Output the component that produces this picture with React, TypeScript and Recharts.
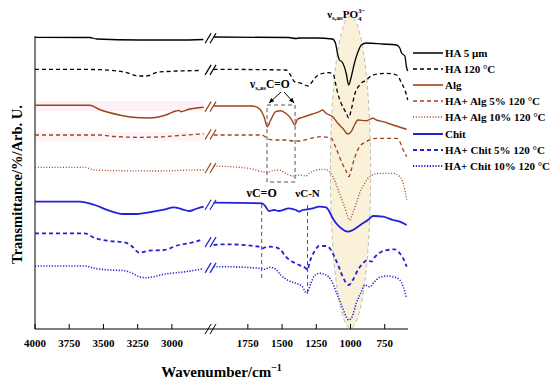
import React from 'react';
import { LineChart, Line, XAxis, YAxis, ReferenceArea, ReferenceLine, ReferenceDot, Legend } from 'recharts';

// ---------- axis break geometry (wavenumber, cm-1) ----------
const LEFT_MAX = 4000;
const LEFT_MIN = 2750;
const RIGHT_MAX = 2000;
const RIGHT_MIN = 580;
const GAP = 55;
const toC = (wn: number) => (wn >= LEFT_MIN ? LEFT_MAX - wn : LEFT_MAX - LEFT_MIN + GAP + (RIGHT_MAX - wn));
const fromC = (c: number) => Math.round(c <= LEFT_MAX - LEFT_MIN ? LEFT_MAX - c : RIGHT_MAX - (c - (LEFT_MAX - LEFT_MIN + GAP)));
const C_MAX = toC(RIGHT_MIN);
const BREAK_C = (LEFT_MAX - LEFT_MIN) + GAP / 2;

// ---------- tick labels ----------
const MAJOR_TICKS = [4000, 3750, 3500, 3250, 3000, 1750, 1500, 1250, 1000, 750];
const MINOR_TICKS = [3875, 3625, 3375, 3125, 2875, 1875, 1625, 1375, 1125, 875, 625];

// ---------- spectra: [wavenumber, transmittance (arb. u., stacked)] ----------
const HA_5UM: [number, number][] = [
  [4000, 291.7], [3600, 291.5], [3550, 290], [3240, 289], [2950, 289], [2770, 289.5],
  [2000, 292], [1450, 291.5], [1400, 290.5], [1375, 291], [1250, 291], [1132, 290], [1110, 286], [1096, 276],
  [1081, 269], [1061, 267], [1032, 256], [1013, 244], [995, 252], [971, 266], [946, 277], [921, 284], [885, 286],
  [765, 285], [664, 284], [640, 281], [627, 276], [603, 273], [591, 262], [582, 258],
];
const HA_120C: [number, number][] = [
  [4000, 259.7], [3565, 259.5], [3348, 257], [3239, 253], [3188, 253], [3094, 257], [2804, 258.5],
  [2000, 259.7], [1470, 259], [1446, 255.7], [1409, 247.3], [1360, 245.7], [1310, 243], [1287, 246], [1262, 250.7],
  [1237, 254], [1188, 256], [1154, 256.3], [1125, 254.5], [1110, 246], [1094, 236], [1069, 226], [1032, 216],
  [1013, 211], [995, 219], [971, 234], [934, 244], [885, 249], [838, 254], [738, 255.7], [664, 254], [627, 246],
  [603, 239], [591, 234], [582, 229],
];
const ALG: [number, number][] = [
  [4000, 223.7], [3601, 223.7], [3529, 219.5], [3384, 214], [3290, 211.7], [3167, 211], [3043, 214], [2971, 218],
  [2949, 218.5], [2935, 217.3], [2877, 219.7], [2768, 221.7],
  [2000, 223], [1718, 223], [1669, 220.7], [1632, 212.3], [1608, 202.3], [1583, 209], [1546, 217.3], [1510, 218.3],
  [1473, 215.7], [1436, 210.7], [1407, 204], [1387, 209.7], [1351, 211.7], [1277, 215], [1228, 217.3], [1204, 219],
  [1179, 215.7], [1130, 212.3], [1093, 205.7], [1057, 200.7], [1020, 195], [995, 197.3], [971, 204], [946, 209],
  [885, 208.3], [836, 210.7], [811, 209], [762, 207.3], [689, 204], [590, 199.7],
];
const ALG_5: [number, number][] = [
  [4000, 194], [3529, 194], [3420, 192.5], [3239, 191.7], [3100, 192], [2950, 193.5], [2768, 195],
  [2000, 194], [1650, 194], [1600, 190], [1550, 189], [1470, 189], [1420, 188], [1375, 188], [1290, 190.7],
  [1215, 192.3], [1140, 190.7], [1115, 184], [1091, 175.7], [1066, 167.3], [1030, 157.3], [1012, 152.3], [995, 159],
  [971, 170.7], [934, 182.3], [885, 187.3], [811, 190.7], [664, 190.7], [640, 187.3], [615, 179], [590, 172.3],
];
const ALG_10: [number, number][] = [
  [4000, 161.7], [3638, 161.7], [3565, 159], [3384, 158.3], [3094, 158], [2804, 159], [2768, 159],
  [2000, 163], [1743, 160.7], [1645, 157.3], [1608, 156.7], [1571, 158.3], [1522, 159], [1473, 155.7], [1424, 153],
  [1375, 154], [1326, 153], [1301, 155.7], [1265, 158.3], [1204, 159.7], [1167, 159], [1142, 155.7], [1118, 149],
  [1081, 135.7], [1044, 122.3], [1020, 112.3], [1007, 109], [983, 116], [958, 125.7], [934, 135.7], [897, 145.7],
  [860, 152.3], [787, 155.7], [689, 155.7], [640, 152.3], [603, 139], [590, 129],
];
const CHIT: [number, number][] = [
  [4000, 127.3], [3674, 127.3], [3565, 124], [3457, 118.3], [3360, 115], [3275, 115], [3167, 116.7], [3058, 119.3],
  [2986, 121.7], [2925, 119.7], [2872, 118], [2826, 120], [2768, 122.3],
  [2000, 126.3], [1645, 125.7], [1620, 122.3], [1596, 118], [1559, 119], [1522, 118], [1449, 120.7], [1399, 119],
  [1375, 117.3], [1350, 119], [1314, 119.7], [1277, 120.7], [1228, 122.3], [1179, 121.7], [1154, 117.3],
  [1130, 110.7], [1105, 105.7], [1068, 100.7], [1020, 97.3], [983, 99], [946, 102.3], [910, 105.7], [873, 109],
  [836, 113], [762, 112.3], [689, 109], [640, 107.3], [590, 104],
];
const CHIT_5: [number, number][] = [
  [4000, 95.7], [3638, 95.7], [3565, 91], [3457, 88], [3348, 86.7], [3288, 82.3], [3239, 76.3], [3167, 78.3],
  [3058, 79], [2949, 84], [2855, 86.3], [2775, 89.7],
  [2000, 84], [1914, 84.7], [1669, 82.3], [1645, 80.7], [1608, 82.3], [1546, 81.7], [1510, 79], [1473, 72.3],
  [1424, 67.3], [1375, 64], [1326, 60.7], [1314, 59], [1301, 65.7], [1265, 77.3], [1228, 83], [1179, 83],
  [1142, 79], [1118, 72.3], [1086, 62.3], [1057, 52.3], [1013, 44], [983, 49], [946, 59], [910, 65.7], [873, 69],
  [848, 67.3], [824, 71.7], [774, 77.3], [726, 79], [676, 79.7], [640, 75.7], [615, 70.7], [590, 62.3],
];
const CHIT_10: [number, number][] = [
  [4000, 63], [3638, 63], [3565, 60.7], [3457, 59], [3348, 58.3], [3288, 55.7], [3239, 52.3], [3191, 51.3],
  [3046, 55], [2901, 57.3], [2780, 60],
  [2000, 62.3], [1914, 62.3], [1669, 60.7], [1632, 59.7], [1583, 61.7], [1546, 59.7], [1510, 54], [1461, 49],
  [1399, 45.7], [1351, 42.3], [1321, 35.7], [1289, 45.7], [1265, 53], [1228, 55.7], [1179, 54], [1142, 49],
  [1105, 37.3], [1081, 29], [1057, 20.7], [1032, 12.3], [1013, 9], [988, 12.3], [958, 25.7], [921, 37.3],
  [897, 44], [860, 42.3], [824, 47.3], [787, 51.7], [738, 53], [689, 52.3], [640, 49], [615, 42.3], [590, 30.7],
];

// ---------- annotation positions (wavenumber / arb. units) ----------
const PO4_BAND = { wnHigh: 1147, wnLow: 853, tLow: 1, tHigh: 313 };
const CO_BOX = { wnHigh: 1610, wnLow: 1405, tLow: 147, tHigh: 224 };
const NU_CO_WN = 1649;
const NU_CN_WN = 1314;

const BLACK = '#000000';
const BROWN = '#9e421c';
const BLUE = '#2222d4';
const FONT = '"Liberation Serif", "Times New Roman", serif';

type S = { name: string; data: [number, number][]; color: string; dash?: string; width: number };
const SERIES: S[] = [
  { name: 'HA 5 μm', data: HA_5UM, color: BLACK, width: 1.3 },
  { name: 'HA 120 °C', data: HA_120C, color: BLACK, dash: '4 3', width: 1.3 },
  { name: 'Alg', data: ALG, color: BROWN, width: 1.4 },
  { name: 'HA+ Alg 5% 120 °C', data: ALG_5, color: BROWN, dash: '4 3', width: 1.3 },
  { name: 'HA+ Alg 10% 120 °C', data: ALG_10, color: BROWN, dash: '1 1.8', width: 1.3 },
  { name: 'Chit', data: CHIT, color: BLUE, width: 1.8 },
  { name: 'HA+ Chit 5% 120 °C', data: CHIT_5, color: BLUE, dash: '4 3', width: 1.8 },
  { name: 'HA+ Chit 10% 120 °C', data: CHIT_10, color: BLUE, dash: '1.2 1.6', width: 1.6 },
];

const toPoints = (arr: [number, number][]) => {
  const out: { c: number; v: number | null }[] = [];
  arr.forEach(([wn, v], i) => {
    if (i > 0 && arr[i - 1][0] >= LEFT_MIN && wn <= RIGHT_MAX) out.push({ c: BREAK_C, v: null });
    out.push({ c: toC(wn), v });
  });
  return out;
};
const breakLevel = (arr: [number, number][]) => {
  const i = arr.findIndex(([wn]) => wn <= RIGHT_MAX);
  return (arr[i - 1][1] + arr[i][1]) / 2;
};

const MAJOR_C = MAJOR_TICKS.map(toC).sort((a, b) => a - b);
const MINOR_C = MINOR_TICKS.map(toC).sort((a, b) => a - b);

const AxisLabelTick = (props: any) => {
  const { x, y, payload } = props;
  return (
    <text x={x} y={y + 23} textAnchor="middle" fontFamily={FONT} fontWeight="bold" fontSize={11} fill="#000">
      {fromC(payload.value)}
    </text>
  );
};

const XLabel = (props: any) => {
  const vb = props.viewBox;
  return (
    <text x={vb.x + vb.width / 2} y={vb.y + 48} textAnchor="middle" fontFamily={FONT} fontWeight="bold" fontSize={15} fill="#000">
      Wavenumber/cm<tspan fontSize={10} dy={-6}>−1</tspan>
    </text>
  );
};

const YLabel = (props: any) => {
  const vb = props.viewBox;
  const cy = vb.y + vb.height / 2 + 15;
  return (
    <text transform={`translate(${vb.x + 22},${cy}) rotate(-90)`} textAnchor="middle" fontFamily={FONT} fontWeight="bold" fontSize={14.5} fill="#000">
      Transmittance/%/Arb. U.
    </text>
  );
};

const arrowHead = (x1: number, y1: number, x2: number, y2: number) => {
  const a = Math.atan2(y2 - y1, x2 - x1);
  const L = 5, Wd = 2.3;
  const bx = x2 - L * Math.cos(a), by = y2 - L * Math.sin(a);
  const px = -Math.sin(a) * Wd, py = Math.cos(a) * Wd;
  return `${x2},${y2} ${bx + px},${by + py} ${bx - px},${by - py}`;
};

const CoLabel = (p: any) => {
  const { cx, cy } = p;
  const lx1 = cx - 1, ly1 = cy + 1, lx2 = cx - 13, ly2 = cy + 12;
  const rx1 = cx + 2, ry1 = cy + 1, rx2 = cx + 12, ry2 = cy + 12;
  return (
    <g>
      <text x={cx - 32} y={cy - 3} fontFamily={FONT} fontWeight="bold" fontSize={11.5} fill="#000">
        ν<tspan fontSize={7} dy={2}>s,as</tspan><tspan dy={-2}>C=O</tspan>
      </text>
      <line x1={lx1} y1={ly1} x2={lx2} y2={ly2} stroke="#000" strokeWidth={1} />
      <polygon points={arrowHead(lx1, ly1, lx2, ly2)} fill="#000" />
      <line x1={rx1} y1={ry1} x2={rx2} y2={ry2} stroke="#000" strokeWidth={1} />
      <polygon points={arrowHead(rx1, ry1, rx2, ry2)} fill="#000" />
    </g>
  );
};

const Po4Label = (p: any) => (
  <text x={p.cx} y={p.cy} textAnchor="middle" fontFamily={FONT} fontWeight="bold" fontSize={11} fill="#000">
    ν<tspan fontSize={7} dy={2}>s,as</tspan><tspan dy={-2}>PO</tspan><tspan fontSize={7} dy={3}>4</tspan>
    <tspan fontSize={7} dx={-3.5} dy={-8}>3−</tspan>
  </text>
);

const simpleLabel = (txt: string, size: number) => (p: any) => (
  <text x={p.cx} y={p.cy} textAnchor="middle" fontFamily={FONT} fontWeight="bold" fontSize={size} fill="#000">
    {txt}
  </text>
);

const Ellipse = (p: any) => (
  <ellipse cx={p.x + p.width / 2} cy={p.y + p.height / 2} rx={p.width / 2} ry={p.height / 2}
    fill="#faf1d9" stroke="#bdbbb0" strokeWidth={1} strokeDasharray="4 3" />
);

const renderLegend = () => (
  <div style={{ display: 'flex', flexDirection: 'column' }}>
    {SERIES.map((s) => (
      <div key={s.name} style={{ height: 16.1, display: 'flex', alignItems: 'center', whiteSpace: 'nowrap' }}>
        <svg width={32} height={6} style={{ display: 'block' }}>
          <line x1={0} y1={3} x2={30} y2={3} stroke={s.color} strokeWidth={s.width + 0.2} strokeDasharray={s.dash} />
        </svg>
        <span style={{ fontFamily: FONT, fontWeight: 'bold', fontSize: 11, color: '#000', lineHeight: '16px' }}>{s.name}</span>
      </div>
    ))}
  </div>
);

export default function App() {
  const slash = (level: number, color: string, key: string, w = 1.2) => [
    <ReferenceLine key={key + 'a'} segment={[{ x: BREAK_C - 35, y: level - 5 }, { x: BREAK_C + 9, y: level + 5 }]}
      stroke={color} strokeWidth={w} ifOverflow="visible" />,
    <ReferenceLine key={key + 'b'} segment={[{ x: BREAK_C + 1, y: level - 5 }, { x: BREAK_C + 45, y: level + 5 }]}
      stroke={color} strokeWidth={w} ifOverflow="visible" />,
  ];
  return (
    <div style={{ position: 'absolute', left: 0, top: 0, width: 550, height: 382, background: '#fff' }}>
      <LineChart width={550} height={382} margin={{ top: 10, right: 142, bottom: 0, left: 0 }}>
        <XAxis xAxisId="minor" type="number" dataKey="c" domain={[0, C_MAX]} ticks={MINOR_C} interval={0}
          tick={false} tickLine={{ stroke: '#000', strokeWidth: 1 }} tickSize={-3} axisLine={false} height={0} />
        <XAxis type="number" dataKey="c" domain={[0, C_MAX]} ticks={MAJOR_C} interval={0}
          tick={AxisLabelTick} tickLine={{ stroke: '#000', strokeWidth: 1 }} tickSize={-5} tickMargin={0} height={53}
          axisLine={{ stroke: '#000', strokeWidth: 1 }} label={{ content: XLabel }} />
        <YAxis type="number" domain={[0, 319]} width={35} tick={false} tickLine={false} axisLine={false}
          label={{ content: YLabel }} />
        <ReferenceArea x1={0} x2={toC(2768)} y1={218} y2={228} fill="#fdf1f6" fillOpacity={1} stroke="none" zIndex={-60} />
        <ReferenceArea x1={0} x2={toC(2768)} y1={188} y2={197} fill="#fdf4f8" fillOpacity={1} stroke="none" zIndex={-60} />
        <ReferenceArea x1={toC(PO4_BAND.wnHigh)} x2={toC(PO4_BAND.wnLow)} y1={PO4_BAND.tLow} y2={PO4_BAND.tHigh}
          shape={Ellipse} ifOverflow="visible" zIndex={-50} />
        <ReferenceLine segment={[{ x: 0, y: 0 }, { x: 0, y: 293 }]} stroke="#000" strokeWidth={1} ifOverflow="visible" />
        {SERIES.map((s) => (
          <Line key={s.name} name={s.name} data={toPoints(s.data)} dataKey="v" type="monotone" stroke={s.color}
            strokeWidth={s.width} strokeDasharray={s.dash} dot={false} activeDot={false}
            isAnimationActive={false} connectNulls={false} />
        ))}
        {SERIES.flatMap((s) => slash(breakLevel(s.data), s.color, s.name))}
        {slash(0, '#000', 'axis', 1)}
        <ReferenceArea x1={toC(CO_BOX.wnHigh)} x2={toC(CO_BOX.wnLow)} y1={CO_BOX.tLow} y2={CO_BOX.tHigh}
          fill="none" fillOpacity={0} stroke="#555" strokeWidth={1} strokeDasharray="4 3" ifOverflow="visible" />
        <ReferenceLine segment={[{ x: toC(NU_CO_WN), y: 51 }, { x: toC(NU_CO_WN), y: 126 }]}
          stroke="#555" strokeWidth={1} strokeDasharray="4 3" />
        <ReferenceLine segment={[{ x: toC(NU_CN_WN), y: 36 }, { x: toC(NU_CN_WN), y: 126 }]}
          stroke="#555" strokeWidth={1} strokeDasharray="4 3" />
        <ReferenceDot x={toC(1030)} y={311} r={0} shape={Po4Label} ifOverflow="visible" />
        <ReferenceDot x={toC(1500)} y={238} r={0} shape={CoLabel} ifOverflow="visible" />
        <ReferenceDot x={toC(NU_CO_WN)} y={132} r={0} shape={simpleLabel('νC=O', 12)} ifOverflow="visible" />
        <ReferenceDot x={toC(NU_CN_WN)} y={132} r={0} shape={simpleLabel('νC-N', 11)} ifOverflow="visible" />
        <Legend content={renderLegend} layout="vertical" align="center" verticalAlign="middle"
          wrapperStyle={{ left: 413, top: 45, width: 137 }} />
      </LineChart>
    </div>
  );
}
